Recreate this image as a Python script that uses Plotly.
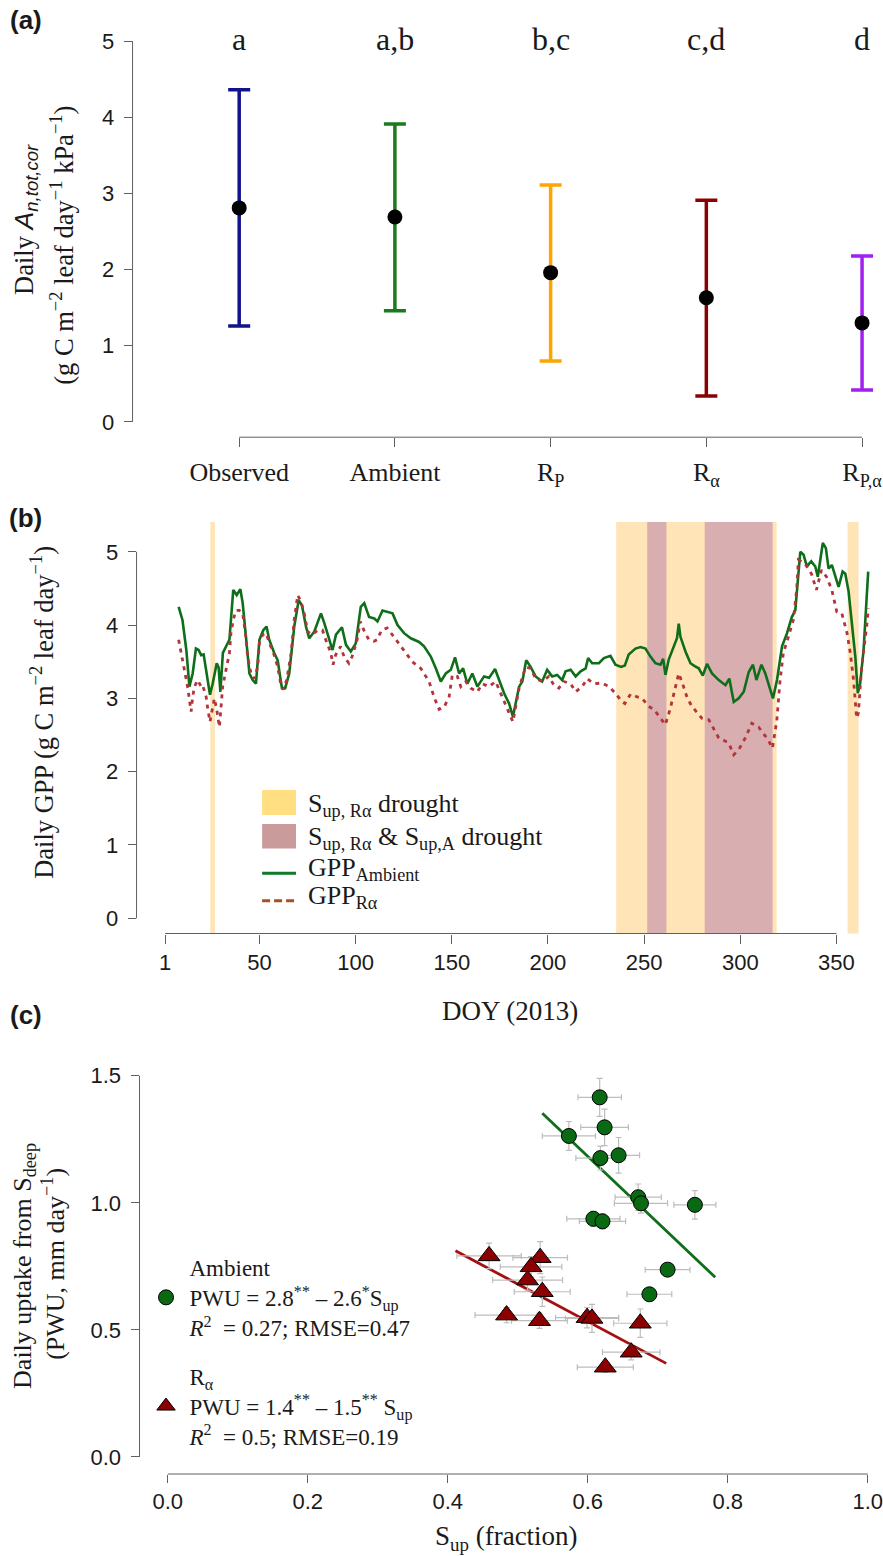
import plotly.graph_objects as go

W, H = 883, 1556
SERIF = "Liberation Serif, 'Times New Roman', Times, serif"
SANS = "Liberation Sans, Arial, Helvetica, sans-serif"
AXC = "#606060"
TXT = "#1a1a1a"

# ---------------- Panel (a) data ----------------
a_pos = [1, 2, 3, 4, 5]
a_labels = ["Observed", "Ambient", "R<sub>P</sub>", "R<sub>α</sub>", "R<sub>P,α</sub>"]
a_mean = [2.81, 2.69, 1.96, 1.63, 1.30]
a_upper = [4.36, 3.91, 3.11, 2.91, 2.18]
a_lower = [1.26, 1.46, 0.80, 0.34, 0.42]
a_letters = ["a", "a,b", "b,c", "c,d", "d"]
a_colors = ["#12128c", "#1b7a1b", "#ffa500", "#8b0000", "#a020f0"]
a_yticks = [0, 1, 2, 3, 4, 5]

# ---------------- Panel (b) data ----------------
amb_doy = [8, 10, 12, 13.6, 15.3, 17, 18.4, 19.7, 21, 22.3, 24.3, 25.7, 27.8, 28.8, 29.7, 31, 32.6, 34.4,
           36.4, 38.2, 40.1, 41.3, 43, 44.8, 46.5, 48.2, 50, 52, 53.7, 55.1, 57.7, 59.5, 61.7, 63.4, 65.5,
           68.1, 70.4, 72.1, 74.2, 75.9, 78.5, 82, 83.7, 86.3, 88, 89.8, 92.9, 95, 97.5, 100.1, 102.7, 104.5,
           107, 109.7, 111.4, 114, 117.4, 119.2, 121.8, 125.2, 128.7, 133, 135.6, 139.1, 141.7, 144.3, 146.9,
           149.5, 151.7, 153.8, 155.9, 158.1, 160.7, 163.3, 166.8, 169.4, 172.5, 174.6, 177.2, 179.8, 181.8,
           185, 186.7, 188.7, 191, 193.6, 197, 199.6, 202.2, 204.8, 207.4, 209.2, 211.8, 214.4, 217, 219.6,
           220.9, 223, 226.5, 229.1, 232.5, 235.1, 238, 240, 242, 245.5, 248.1, 250.7, 253.3, 255.9, 258.5,
           259.9, 261.1, 262.8, 265.4, 267.1, 268, 268.9, 271.5, 274.1, 276.3, 278.4, 280.5, 282.7, 285.3,
           288.8, 292.3, 294.3, 296.6, 299.2, 301.8, 304.4, 306.6, 308.4, 311, 313, 315.1, 317, 319.1, 321.7,
           324.3, 326.8, 328.6, 330, 331.2, 332.9, 334.6, 336.9, 339, 340.3, 341.6, 342.9, 344.5, 345.9, 347.6,
           349.4, 351.1, 353.2, 354.6, 356.3, 358, 359.8, 361.1, 362.3, 364.1, 365.5, 366.5]
amb_gpp = [4.25, 4.07, 3.66, 3.16, 3.34, 3.68, 3.66, 3.59, 3.6, 3.36, 3.05, 3.2, 3.48, 3.42, 3.09, 3.62, 3.71, 3.8,
           4.48, 4.41, 4.49, 4.3, 3.84, 3.34, 3.25, 3.2, 3.8, 3.93, 3.98, 3.8, 3.62, 3.52, 3.14, 3.14, 3.34,
           3.98, 4.34, 4.27, 3.98, 3.82, 3.91, 4.16, 4.03, 3.8, 3.66, 3.87, 3.97, 3.73, 3.64, 3.75, 4.25, 4.3,
           4.11, 4.09, 4.05, 4.2, 4.17, 4.16, 4.0, 3.89, 3.82, 3.77, 3.71, 3.57, 3.41, 3.23, 3.34,
           3.39, 3.56, 3.34, 3.41, 3.2, 3.34, 3.16, 3.3, 3.28, 3.4, 3.25, 3.07, 2.93, 2.75,
           3.16, 3.23, 3.52, 3.43, 3.3, 3.23, 3.39, 3.3, 3.32, 3.25, 3.37, 3.39, 3.3, 3.37, 3.41,
           3.55, 3.48, 3.48, 3.55, 3.58, 3.46, 3.43, 3.45, 3.6, 3.68, 3.7, 3.68, 3.57, 3.48, 3.46,
           3.54, 3.32, 3.53, 3.7, 3.82, 4.02, 3.84, 3.64, 3.48, 3.44, 3.41, 3.31, 3.47, 3.34,
           3.25, 3.18, 3.27, 2.95, 3.0, 3.09, 3.36, 3.46, 3.25, 3.46, 3.34, 3.16, 3.0, 3.25, 3.71,
           3.89, 4.11, 4.2, 4.62, 5.0, 4.96, 4.8, 4.87, 4.8, 4.66, 4.89, 5.12, 5.05, 4.77, 4.82,
           4.66, 4.52, 4.73, 4.7, 4.46, 4.02, 3.57, 3.07, 3.2, 3.66, 4.25, 4.73]
ra_doy = [8, 9.3, 11, 11.9, 12.8, 13.6, 14.5, 15.3, 16.2, 17.9, 19.7, 20.5, 22.3, 23.2, 24.3, 25.5, 26.6, 27.8,
          29.2, 30.9, 32.6, 34.4, 35.2, 36.4, 37.8, 39.6, 41.3, 42.7, 43.9, 45.6, 47.4, 49.1, 50, 51.7, 53.5,
          55.1, 57.7, 59.5, 61.2, 62.4, 64.2, 66.5, 68.1, 69.9, 71.6, 73.3, 75.1, 77.6, 80.2, 82.8, 84.5, 87.1,
          88.3, 89.6, 92.2, 94, 96.5, 98.2, 100.8, 102.5, 104.3, 106.9, 109.5, 111.2, 113.5, 116.4, 119.9,
          125.2, 129.5, 133.9, 138.2, 140.8, 143.4, 146, 148.6, 150.3, 152.9, 154.7, 157.3, 159.9, 163.3,
          165.9, 169.4, 172.8, 175.4, 178, 181.8, 185, 188.4, 191, 193.6, 197, 200.5, 203.1, 205.7, 208.3,
          211.8, 214.4, 217.8, 220.4, 223.9, 228.2, 231.7, 235.1, 238.6, 240, 243, 246.4, 249, 252.4, 255,
          258, 261, 263.5, 266, 268, 270, 272.5, 274.9, 278, 280, 283.6, 286, 288.8, 292, 294, 296.6, 299.2,
          302.6, 306, 309.5, 312, 314.6, 316.7, 319, 320.7, 322.4, 325, 327.6, 329.3, 330.2, 333.6, 337,
          339.6, 342.2, 344.8, 347.6, 350.2, 352.8, 355.5, 357.2, 358.9, 360.5, 361.4, 363.1, 365.7, 366.6]
ra_gpp = [3.8, 3.62, 3.43, 3.3, 3.14, 2.98, 2.82, 3.02, 3.16, 3.25, 3.16, 3.18, 3.02, 2.85, 2.68, 2.85, 3.0, 2.85,
          2.61, 3.16, 3.41, 3.62, 3.89, 4.07, 4.2, 4.2, 4.16, 3.89, 3.57, 3.34, 3.27, 3.43, 3.76, 3.87, 3.89,
          3.76, 3.59, 3.43, 3.18, 3.12, 3.25, 3.62, 4.07, 4.41, 4.32, 4.16, 3.91, 3.87, 3.93, 3.93, 3.8, 3.62,
          3.46, 3.59, 3.71, 3.57, 3.48, 3.57, 3.8, 4.05, 3.93, 3.8, 3.78, 3.8, 3.93, 3.96, 3.84,
          3.66, 3.5, 3.41, 3.23, 3.02, 2.85, 2.88, 3.02, 3.32, 3.3, 3.16, 3.23, 3.14, 3.09,
          3.2, 3.16, 3.23, 3.07, 2.93, 2.68, 3.14, 3.43, 3.41, 3.27, 3.23, 3.3, 3.18, 3.14, 3.23,
          3.2, 3.09, 3.16, 3.27, 3.2, 3.21, 3.16, 3.07, 2.95, 2.93, 3.06, 3.02, 3.0, 2.89, 2.85,
          2.75, 2.64, 2.85, 3.1, 3.34, 3.2, 3.0, 2.89, 2.8, 2.73, 2.71, 2.6, 2.46, 2.42, 2.39, 2.23, 2.3,
          2.46, 2.66, 2.61, 2.52, 2.43, 2.32, 2.7, 3.25, 3.62, 3.84, 4.07, 4.48, 4.89, 4.84, 4.7,
          4.48, 4.75, 4.66, 4.48, 4.18, 4.16, 3.89, 3.62, 3.25, 2.73, 2.8, 3.43, 3.98, 4.23]
dry_ra_start = [24.5, 235.5, 355.8]
dry_ra_end = [26.9, 318.9, 361.5]
dry_both_start = [251.6, 281.5]
dry_both_end = [261.6, 316.8]
b_xticks = [1, 50, 100, 150, 200, 250, 300, 350]
b_yticks = [0, 1, 2, 3, 4, 5]

# ---------------- Panel (c) data ----------------
amb_sup = [0.617, 0.624, 0.573, 0.618, 0.644, 0.672, 0.676, 0.753, 0.608, 0.621, 0.714, 0.688]
amb_pwu = [1.415, 1.297, 1.263, 1.176, 1.187, 1.022, 0.998, 0.992, 0.937, 0.927, 0.737, 0.640]
amb_sup_err = [0.031, 0.034, 0.038, 0.035, 0.030, 0.033, 0.038, 0.030, 0.038, 0.033, 0.032, 0.032]
amb_pwu_err = [0.075, 0.072, 0.057, 0.047, 0.070, 0.052, 0.039, 0.056, 0.030, 0.030, 0.010, 0.010]
ra_sup = [0.459, 0.532, 0.519, 0.514, 0.535, 0.484, 0.531, 0.599, 0.606, 0.675, 0.662, 0.625]
ra_pwu = [0.791, 0.784, 0.748, 0.696, 0.650, 0.558, 0.536, 0.548, 0.545, 0.526, 0.412, 0.353]
ra_sup_err = [0.046, 0.039, 0.044, 0.050, 0.040, 0.045, 0.040, 0.045, 0.038, 0.038, 0.041, 0.040]
ra_pwu_err = [0.050, 0.063, 0.040, 0.040, 0.058, 0.030, 0.030, 0.040, 0.055, 0.056, 0.030, 0.020]
amb_fit_x = [0.535, 0.782]
amb_fit_y = [1.352, 0.707]
ra_fit_x = [0.411, 0.712]
ra_fit_y = [0.811, 0.368]
c_xticks = [0.0, 0.2, 0.4, 0.6, 0.8, 1.0]
c_yticks = [0.0, 0.5, 1.0, 1.5]

amb_label = "Ambient<br>PWU = 2.8<sup>**</sup> – 2.6<sup>*</sup>S<sub>up</sub><br><i>R</i><sup>2</sup>  = 0.27; RMSE=0.47"
ra_label = "R<sub>α</sub><br>PWU = 1.4<sup>**</sup> – 1.5<sup>**</sup> S<sub>up</sub><br><i>R</i><sup>2</sup>  = 0.5; RMSE=0.19"


def fx(px):
    return px / W


def fy(py):
    return 1 - py / H


fig = go.Figure()

# ---------- Panel (a) traces ----------
for i in range(len(a_pos)):
    fig.add_trace(go.Scatter(
        x=[a_pos[i]], y=[a_mean[i]], mode="markers", xaxis="x", yaxis="y", showlegend=False,
        marker=dict(size=15, color="black"),
        error_y=dict(type="data", symmetric=False, array=[a_upper[i] - a_mean[i]],
                     arrayminus=[a_mean[i] - a_lower[i]], color=a_colors[i], thickness=3.5, width=11),
        hoverinfo="skip"))

# ---------- Panel (b) traces ----------
fig.add_trace(go.Scatter(x=amb_doy, y=amb_gpp, mode="lines", xaxis="x2", yaxis="y2", showlegend=False,
                         line=dict(color="#0e6e1a", width=2.6), hoverinfo="skip"))
fig.add_trace(go.Scatter(x=ra_doy, y=ra_gpp, mode="lines", xaxis="x2", yaxis="y2", showlegend=False,
                         line=dict(color="#b3343a", width=2.8, dash="4px,5px"), hoverinfo="skip"))

# ---------- Panel (c) traces ----------
fig.add_trace(go.Scatter(x=amb_fit_x, y=amb_fit_y, mode="lines", xaxis="x3", yaxis="y3", showlegend=False,
                         line=dict(color="#0e6e1a", width=2.8), hoverinfo="skip"))
fig.add_trace(go.Scatter(x=ra_fit_x, y=ra_fit_y, mode="lines", xaxis="x3", yaxis="y3", showlegend=False,
                         line=dict(color="#a50f12", width=2.8), hoverinfo="skip"))
fig.add_trace(go.Scatter(
    x=amb_sup, y=amb_pwu, mode="markers", xaxis="x3", yaxis="y3", name=amb_label,
    legend="legend2", legendgroup="amb", showlegend=True,
    marker=dict(symbol="circle", size=15, color="#0a6a14", line=dict(color="black", width=1)),
    error_x=dict(type="data", array=amb_sup_err, color="#bdbdbd", thickness=1.2, width=3),
    error_y=dict(type="data", array=amb_pwu_err, color="#bdbdbd", thickness=1.2, width=3),
    hoverinfo="skip"))
fig.add_trace(go.Scatter(
    x=ra_sup, y=ra_pwu, mode="markers", xaxis="x3", yaxis="y3", name=ra_label,
    legend="legend2", legendgroup="ra", showlegend=True,
    marker=dict(symbol="triangle-up", size=19, color="#8b0000", line=dict(color="black", width=1)),
    error_x=dict(type="data", array=ra_sup_err, color="#bdbdbd", thickness=1.2, width=3),
    error_y=dict(type="data", array=ra_pwu_err, color="#bdbdbd", thickness=1.2, width=3),
    hoverinfo="skip"))


def ax(**kw):
    d = dict(showgrid=False, zeroline=False, showline=False, ticks="outside", tickcolor=AXC,
             tickwidth=1, ticklen=8, tickfont=dict(family=SANS, size=22, color=TXT),
             ticklabelstandoff=5, fixedrange=True, ticklabeloverflow="allow")
    d.update(kw)
    return d


layout = dict(
    width=W, height=H, margin=dict(l=0, r=0, t=0, b=0),
    paper_bgcolor="white", plot_bgcolor="rgba(0,0,0,0)",
    xaxis=ax(domain=[fx(133), 1], range=[0.3152, 5.1152], anchor="y", tickmode="array",
             tickvals=a_pos, ticktext=a_labels, ticklen=9,
             tickfont=dict(family=SERIF, size=26, color=TXT), ticklabelstandoff=3),
    yaxis=ax(domain=[fy(437.2), fy(25.8)], range=[-0.2, 5.2], anchor="x", tickmode="array",
             tickvals=a_yticks),
    xaxis2=ax(domain=[fx(137), 1], range=[-13.886, 372.64], anchor="y2", tickmode="array",
              tickvals=b_xticks, ticklen=9, ticklabelstandoff=0),
    yaxis2=ax(domain=[fy(933.5), fy(521.9)], range=[-0.208, 5.408], anchor="x2", tickmode="array",
              tickvals=b_yticks),
    xaxis3=ax(domain=[fx(140), 1], range=[-0.0403, 1.0174], anchor="y3", tickmode="array",
              tickvals=c_xticks, tickformat=".1f", ticklen=8, ticklabelstandoff=0),
    yaxis3=ax(domain=[fy(1474), fy(1060.5)], range=[-0.0673, 1.56], anchor="x3", tickmode="array",
              tickvals=c_yticks, tickformat=".1f"),
    legend2=dict(xref="paper", yref="paper", x=fx(143), y=fy(1246), xanchor="left", yanchor="top",
                 font=dict(family=SERIF, size=23, color=TXT), bgcolor="rgba(0,0,0,0)", borderwidth=0,
                 tracegroupgap=16, valign="middle", itemsizing="trace", orientation="v", itemwidth=37),
    showlegend=True,
)
fig.update_layout(**layout)

shapes = []
# axis lines (R style: from first to last tick)
shapes.append(dict(type="line", xref="x domain", yref="y", x0=0, x1=0, y0=a_yticks[0], y1=a_yticks[-1],
                   line=dict(color=AXC, width=1)))
shapes.append(dict(type="line", xref="x", yref="y domain", x0=a_pos[0], x1=a_pos[-1], y0=0, y1=0,
                   line=dict(color=AXC, width=1)))
# drought shading (b)
for s, e in zip(dry_ra_start, dry_ra_end):
    shapes.append(dict(type="rect", xref="x2", yref="y2 domain", x0=s, x1=e, y0=0, y1=1,
                       fillcolor="#fee4b6", line=dict(width=0), layer="below"))
for s, e in zip(dry_both_start, dry_both_end):
    shapes.append(dict(type="rect", xref="x2", yref="y2 domain", x0=s, x1=e, y0=0, y1=1,
                       fillcolor="#d8aeb0", line=dict(width=0), layer="below"))
shapes.append(dict(type="line", xref="x2 domain", yref="y2", x0=0, x1=0, y0=b_yticks[0], y1=b_yticks[-1],
                   line=dict(color=AXC, width=1)))
shapes.append(dict(type="line", xref="x2", yref="y2 domain", x0=b_xticks[0], x1=b_xticks[-1], y0=0, y1=0,
                   line=dict(color=AXC, width=1)))
shapes.append(dict(type="line", xref="x3 domain", yref="y3", x0=0, x1=0, y0=c_yticks[0], y1=c_yticks[-1],
                   line=dict(color=AXC, width=1)))
shapes.append(dict(type="line", xref="x3", yref="y3 domain", x0=c_xticks[0], x1=c_xticks[-1], y0=0, y1=0,
                   line=dict(color=AXC, width=1)))
# legend (b) glyphs
shapes.append(dict(type="rect", xref="paper", yref="paper", x0=fx(263), x1=fx(297), y0=fy(815), y1=fy(790),
                   fillcolor="#ffdf82", line=dict(width=0)))
shapes.append(dict(type="rect", xref="paper", yref="paper", x0=fx(263), x1=fx(297), y0=fy(848.5), y1=fy(824),
                   fillcolor="#c99b9b", line=dict(width=0)))
shapes.append(dict(type="line", xref="paper", yref="paper", x0=fx(263), x1=fx(297), y0=fy(873.3), y1=fy(873.3),
                   line=dict(color="#0e7a2a", width=3)))
shapes.append(dict(type="line", xref="paper", yref="paper", x0=fx(263), x1=fx(297), y0=fy(900.7), y1=fy(900.7),
                   line=dict(color="#a8501e", width=3, dash="8px,4px")))
fig.update_layout(shapes=shapes)

ann = []
for i in range(len(a_pos)):
    ann.append(dict(x=a_pos[i], y=5.03, xref="x", yref="y", text=a_letters[i], showarrow=False,
                    font=dict(family=SERIF, size=32, color=TXT), xanchor="center", yanchor="middle"))


def pann(text, x, y, size, family=SERIF, angle=0, xanchor="center", yanchor="middle"):
    return dict(x=fx(x), y=fy(y), xref="paper", yref="paper", text=text, showarrow=False,
                font=dict(family=family, size=size, color=TXT),
                textangle=angle, xanchor=xanchor, yanchor=yanchor)


ann.append(pann("<b>(a)</b>", 26, 20, 26, family=SANS))
ann.append(pann("<b>(b)</b>", 26, 518, 26, family=SANS))
ann.append(pann("<b>(c)</b>", 26, 1015, 26, family=SANS))

ann.append(pann("Daily <span style='font-family:Liberation Sans,Arial'><i>A</i><sub><i>n,tot,cor</i></sub></span>",
                26, 219, 26.5, angle=-90))
ann.append(pann("(g C m<sup>−2</sup> leaf day<sup>−1</sup> kPa<sup>−1</sup>)", 62, 245, 26.5, angle=-90))
ann.append(pann("Daily GPP (g C m<sup>−2</sup> leaf day<sup>−1</sup>)", 42, 712, 26.5, angle=-90))
ann.append(pann("DOY (2013)", 512, 1011, 27))
ann.append(pann("Daily uptake from S<sub>deep</sub>", 24, 1266, 26, angle=-90))
ann.append(pann("(PWU, mm day<sup>−1</sup>)", 53, 1264, 26, angle=-90))
ann.append(pann("S<sub>up</sub> (fraction)", 508, 1538, 27))

ann.append(pann("S<sub>up, Rα</sub> drought", 307, 805, 26, xanchor="left"))
ann.append(pann("S<sub>up, Rα</sub> &amp; S<sub>up,A</sub> drought", 307, 838, 26, xanchor="left"))
ann.append(pann("GPP<sub>Ambient</sub>", 307, 869, 26, xanchor="left"))
ann.append(pann("GPP<sub>Rα</sub>", 307, 897, 26, xanchor="left"))
fig.update_layout(annotations=ann)

fig.write_html("out.html")
